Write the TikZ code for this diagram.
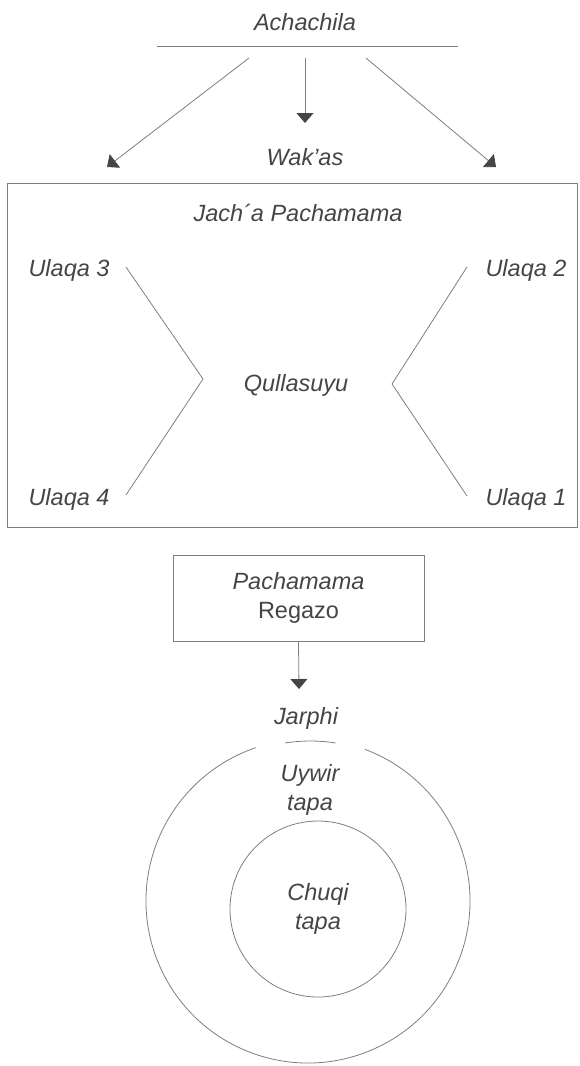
\documentclass[tikz,border=0pt]{standalone}
\usepackage{fontspec}
\setmainfont{Liberation Sans}
\usepackage{xcolor}
\usetikzlibrary{arrows.meta}
\definecolor{ink}{HTML}{454545}
\definecolor{rule}{HTML}{7E7E7E}

\begin{document}
\begin{tikzpicture}[
    x=1pt,y=-1pt,
    lbl/.style={text=ink,font=\fontsize{23.5}{29}\selectfont\itshape,align=center,inner sep=0pt},
    frame/.style={draw=rule,line width=0.9pt},
    ln/.style={draw=rule,line width=0.8pt},
    arr/.style={ln,-{Triangle[width=17pt,length=10pt,color=ink]}}
]
    \useasboundingbox (0,0) rectangle (580,1066);

    % sky
    \node[lbl] (achachila) at (305,22) {Achachila};
    \draw[ln] (157,46) -- (458,46);
    \coordinate (from-l) at (249,58);
    \coordinate (from-m) at (305,58);
    \coordinate (from-r) at (366,58);
    \coordinate (to-l) at (107,167);
    \coordinate (to-m) at (305,123);
    \coordinate (to-r) at (496,167);
    \node[lbl] (wakas) at (305,157) {Wak’as};
    \draw[arr] (from-l) -- (to-l);
    \draw[arr] (from-m) -- (to-m);
    \draw[arr] (from-r) -- (to-r);

    % world
    \node[frame,minimum width=570pt,minimum height=344pt] (world) at (292,355) {};
    \node[lbl] (jacha) at (298,213) {Jach´a Pachamama};
    \node[lbl] (ulaqa3) at (69,270) {Ulaqa 3};
    \node[lbl] (ulaqa2) at (526,270) {Ulaqa 2};
    \node[lbl] (ulaqa4) at (69,499) {Ulaqa 4};
    \node[lbl] (ulaqa1) at (526,499) {Ulaqa 1};
    \node[lbl] (qulla) at (296,385) {Qullasuyu};
    \coordinate (tip-l) at (203,379);
    \coordinate (tip-r) at (392,384);
    \draw[ln] (126,267) -- (tip-l) -- (126,495);
    \draw[ln] (467,267) -- (tip-r) -- (467,496);

    % earth
    \node[lbl,frame,minimum width=251pt,minimum height=86pt] (regazo) at (298.5,598) {Pachamama\\\upshape Regazo};
    \coordinate (to-jarphi) at (299,689);
    \draw[arr] (regazo.south) -- (to-jarphi);
    \node[lbl] (jarphi) at (306,718) {Jarphi};
    \draw[ln] (285,743) arc[start angle=99,end angle=81,radius=162pt];

    \coordinate (core) at (308,901);
    \draw[ln] ([shift={(69.4:162pt)}]core) arc[start angle=69.4,end angle=-251.2,radius=162pt];
    \node[lbl] (uywir) at (310,790) {Uywir\\tapa};
    \node[lbl,ln,circle,minimum size=176pt] (chuqi) at (318,909) {Chuqi\\tapa};
\end{tikzpicture}
\end{document}
